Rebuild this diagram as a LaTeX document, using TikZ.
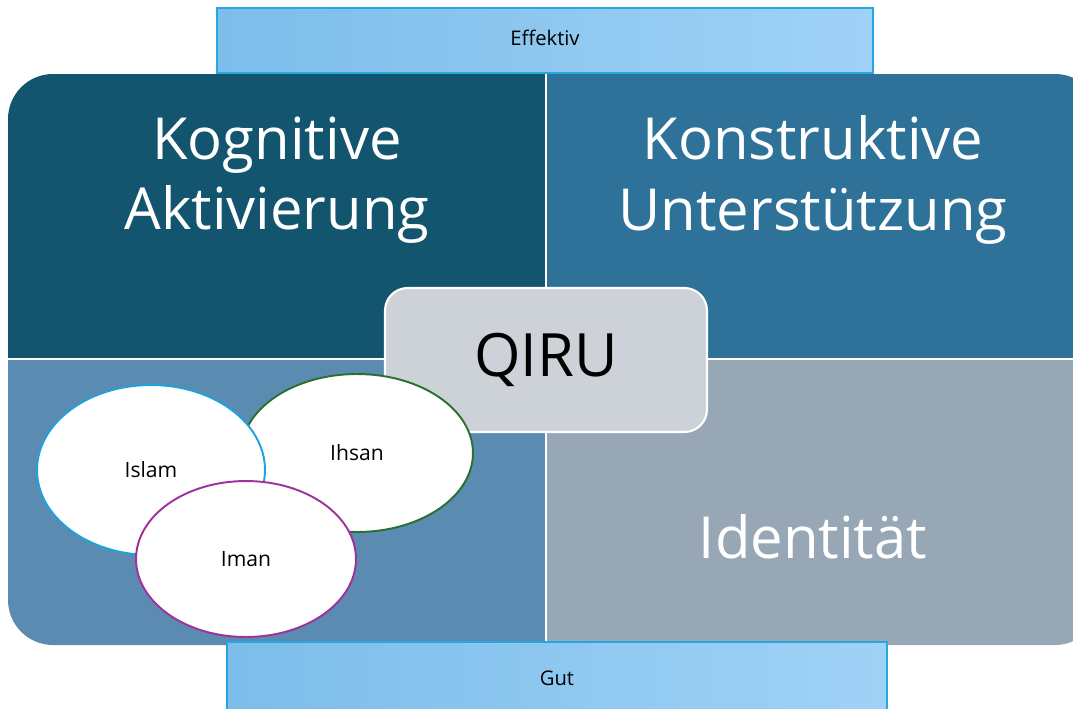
\documentclass[tikz,border=0pt]{standalone}
\usepackage{fontspec}
\setmainfont{Open Sans}
\usepackage{tikz}
\usetikzlibrary{shapes.geometric, positioning}

\definecolor{kogc}{HTML}{13556F}
\definecolor{konc}{HTML}{2E7299}
\definecolor{religc}{HTML}{5B8BB0}
\definecolor{identc}{HTML}{97A7B6}
\definecolor{qiruc}{HTML}{CDD2D9}
\definecolor{barl}{HTML}{7CBDEA}
\definecolor{barr}{HTML}{A0D2F6}
\definecolor{barline}{HTML}{27A6DF}
\definecolor{islamc}{HTML}{1FA3DC}
\definecolor{ihsanc}{HTML}{2A7030}
\definecolor{imanc}{HTML}{A0309A}

\tikzset{
  bar/.style={draw=barline, line width=0.8pt, left color=barl, right color=barr},
  bartext/.style={font=\fontsize{11.5}{13}\selectfont, text=black},
  bigtext/.style={font=\fontsize{33}{40}\selectfont, text=white, align=center},
  bubble/.style={ellipse, draw, line width=1.1pt, fill=white, inner sep=0pt,
    font=\fontsize{12}{14}\selectfont},
}

\begin{document}
\begin{tikzpicture}[x=0.02cm, y=-0.02cm]
\useasboundingbox (0,0) rectangle (1073,708);

% Quadrants
\begin{scope}
\clip (8,74) rectangle (546,359);
\fill[kogc, rounded corners=0.9cm] (8,74) rectangle (1100,645);
\end{scope}
\begin{scope}
\clip (546,74) rectangle (1073,359);
\fill[konc, rounded corners=0.9cm] (8,74) rectangle (1100,645);
\end{scope}
\begin{scope}
\clip (8,359) rectangle (546,645);
\fill[religc, rounded corners=0.9cm] (8,74) rectangle (1100,645);
\end{scope}
\begin{scope}
\clip (546,359) rectangle (1073,645);
\fill[identc, rounded corners=0.9cm] (8,74) rectangle (1100,645);
\end{scope}
\draw[white, line width=1.2pt] (546,74) -- (546,645);
\draw[white, line width=1.2pt] (8,359) -- (1073,359);

\node[bigtext] (kog) at (277,180) {Kognitive\\Aktivierung};
\node[bigtext] (kon) at (813,180) {Konstruktive\\Unterstützung};
\node[bigtext] (ident) at (813,537) {Identität};

% Center box
\node[draw=white, line width=1.2pt, fill=qiruc, rounded corners=0.45cm,
  minimum width=6.44cm, minimum height=2.88cm,
  font=\fontsize{34}{40}\selectfont] (qiru) at (546,360) {QIRU};

% Bubbles
\node[bubble, draw=ihsanc, minimum width=4.64cm, minimum height=3.16cm] (ihsan) at (357,453) {Ihsan};
\node[bubble, draw=islamc, minimum width=4.56cm, minimum height=3.4cm] (islam) at (151,470) {Islam};
\node[bubble, draw=imanc, minimum width=4.4cm, minimum height=3.12cm] (iman) at (246,559) {Iman};

% Bars
\draw[bar] (217,8) rectangle (873,73);
\node[bartext] (eff) at (545,38) {Effektiv};
\draw[bar] (227,642) rectangle (887,712);
\node[bartext] (gut) at (557,678) {Gut};
\end{tikzpicture}
\end{document}
